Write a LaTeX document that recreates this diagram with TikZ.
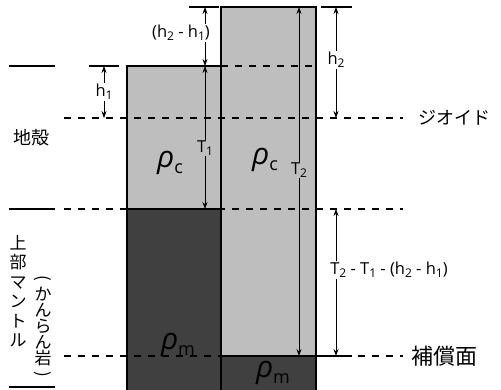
\documentclass[tikz,border=0pt]{standalone}
\usepackage{fontspec}
\setmainfont{Open Sans}
\newfontfamily\jpfont{Noto Sans CJK JP}
\usetikzlibrary{arrows.meta}
\definecolor{crustgray}{RGB}{190,190,190}
\definecolor{mantlegray}{RGB}{64,64,64}
\newcommand\lowsub[2][12]{\raisebox{-0.35ex}{\fontsize{#1}{#1}\selectfont #2}}
\newcommand\vparen[1]{\rotatebox[origin=c]{-90}{\fontsize{17}{17}\selectfont #1}}

\begin{document}
\begin{tikzpicture}[x=1pt, y=-1pt,
  font=\fontsize{16.5}{18}\selectfont,
  edge/.style={line width=1.6pt, line cap=rect},
  tick/.style={line width=1.6pt},
  lvl/.style={line width=1.4pt, dash pattern=on 7pt off 7pt},
  dim/.style={{Stealth[length=7pt,width=5pt]}-{Stealth[length=7pt,width=5pt]}, line width=0.7pt},
  lbl/.style={inner sep=1pt, fill=white},
  rho/.style={font=\fontsize{30}{32}\selectfont},
  jp/.style={font=\jpfont\fontsize{18}{20}\selectfont, inner sep=0pt},
]
\useasboundingbox (0,0) rectangle (501,389);

% ---- columns ----
\fill[crustgray]  (127,66)  rectangle (221,209);
\fill[mantlegray] (127,209) rectangle (221,392);
\fill[crustgray]  (221,7)   rectangle (316,356);
\fill[mantlegray] (221,356) rectangle (316,392);

% ---- levels ----
\draw[lvl] (221,66) -- (316,66);
\draw[lvl] (64,118) -- (403,118);
\draw[lvl] (64,209) -- (403,209);
\draw[lvl] (64,356) -- (403,356);

\draw[tick] (9,66)   -- (55,66);
\draw[tick] (9,209)  -- (55,209);
\draw[tick] (9,387)  -- (55,387);
\draw[tick] (89,66)  -- (119,66);
\draw[tick] (189,7)  -- (219,7);
\draw[tick] (321,7)  -- (352,7);
\draw[tick] (320,356) -- (352,356);

\draw[edge] (127,392) -- (127,66) -- (221,66);
\draw[edge] (127,209) -- (221,209);
\draw[edge] (221,392) -- (221,7) -- (316,7) -- (316,392);
\draw[edge] (221,356) -- (316,356);

% ---- dimensions ----
\coordinate (h1t) at (104,66);  \coordinate (h1b) at (104,118);
\coordinate (dht) at (205,7);   \coordinate (dhb) at (205,66);
\coordinate (t1t) at (205,66);  \coordinate (t1b) at (205,209);
\coordinate (t2t) at (299,7);   \coordinate (t2b) at (299,356);
\coordinate (h2t) at (336,7);   \coordinate (h2b) at (336,118);
\coordinate (rt)  at (336,209); \coordinate (rb)  at (336,356);

\draw[dim] (h1t) -- (h1b);
\draw[dim] (dht) -- (dhb);
\draw[dim] (t1t) -- (t1b);
\draw[dim] (t2t) -- (t2b);
\draw[dim] (h2t) -- (h2b);
\draw[dim] (rt) -- (rb);

\node[lbl] (h1) at (104,92) {h\lowsub{1}};
\node[lbl] (dh) at (181,33) {(h\lowsub{2} - h\lowsub{1})};
\node[lbl, fill=crustgray] (t1) at (205,148) {T\lowsub{1}};
\node[lbl, fill=crustgray] (t2) at (299,170) {T\lowsub{2}};
\node[lbl] (h2) at (336,60) {h\lowsub{2}};
\node[lbl] (rest) at (389,270) {T\lowsub{2} - T\lowsub{1} - (h\lowsub{2} - h\lowsub{1})};

% ---- densities ----
\node[rho] (rc1) at (170,163) {\itshape ρ\lowsub[18]{\upshape c}};
\node[rho] (rc2) at (265,160) {\itshape ρ\lowsub[18]{\upshape c}};
\node[rho] (rm1) at (178,345) {\itshape ρ\lowsub[18]{\upshape m}};
\node[rho] (rm2) at (273,373) {\itshape ρ\lowsub[18]{\upshape m}};

% ---- names ----
\node[jp] (crust) at (31,138) {地殻};
\node[jp, anchor=west] (geoid) at (418,118) {ジオイド};
\node[jp, anchor=west, font=\jpfont\fontsize{22}{24}\selectfont] (comp) at (411,356) {補償面};
\node[jp, align=center, font=\jpfont\fontsize{17}{19.5}\selectfont] (mantle) at (18,291)
  {上\\部\\マ\\ン\\ト\\ル};
\node[jp, align=center, font=\jpfont\fontsize{17}{16}\selectfont] (rock) at (43,328)
  {\vparen{(}\\か\\ん\\ら\\ん\\岩\\\vparen{)}};
\end{tikzpicture}
\end{document}
